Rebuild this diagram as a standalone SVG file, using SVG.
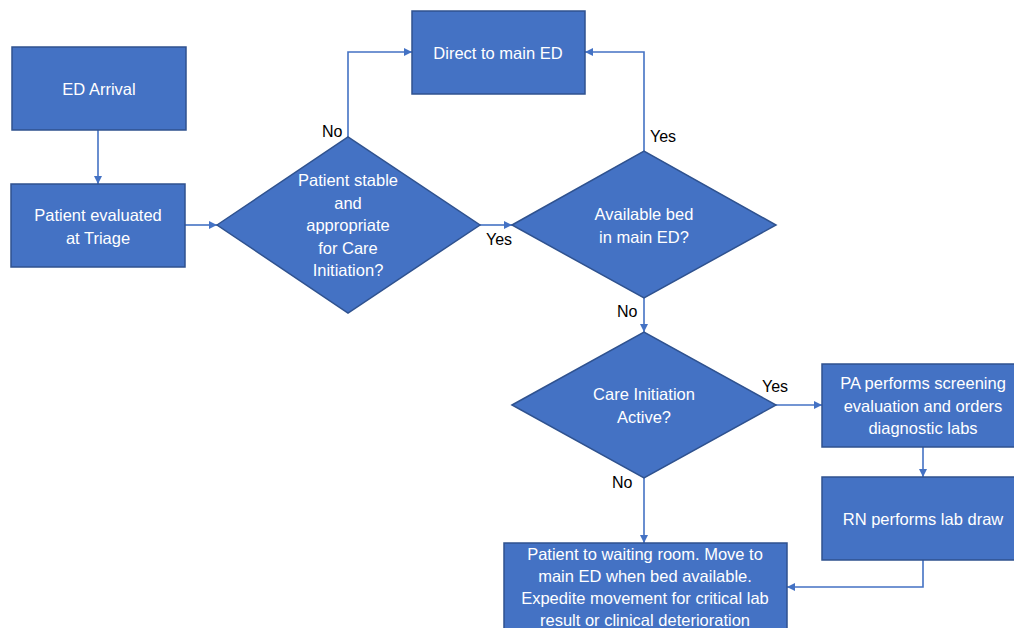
<svg xmlns="http://www.w3.org/2000/svg" width="1014" height="628" viewBox="0 0 1014 628">
<style>
.box{fill:#4472C4;stroke:#2F528F;stroke-width:1.5}
.t{fill:#fff;font-family:"Liberation Sans",Arial,sans-serif;font-size:16.5px;text-anchor:middle}
.lbl{fill:#000;font-family:"Liberation Sans",Arial,sans-serif;font-size:16px}
.c{fill:none;stroke:#4472C4;stroke-width:1.6}
</style>
<defs>
<marker id="ah" viewBox="0 0 10 10" refX="10" refY="5" markerWidth="8" markerHeight="8" markerUnits="userSpaceOnUse" orient="auto">
<path d="M0,0 L10,5 L0,10 z" fill="#4472C4"/>
</marker>
</defs>
<rect width="1014" height="628" fill="#fff"/>
<g id="connectors">
<path class="c" d="M98,130 V184" marker-end="url(#ah)"/>
<path class="c" d="M185,225 H217" marker-end="url(#ah)"/>
<path class="c" d="M348,137 V52 H412" marker-end="url(#ah)"/>
<path class="c" d="M480,225 H512" marker-end="url(#ah)"/>
<path class="c" d="M644,151 V52 H585" marker-end="url(#ah)"/>
<path class="c" d="M644,298 V332" marker-end="url(#ah)"/>
<path class="c" d="M776,405 H822" marker-end="url(#ah)"/>
<path class="c" d="M923,447 V477" marker-end="url(#ah)"/>
<path class="c" d="M923,560 V587 H787" marker-end="url(#ah)"/>
<path class="c" d="M644,478 V543" marker-end="url(#ah)"/>
<text class="lbl" x="322" y="137">No</text>
<text class="lbl" x="650" y="142">Yes</text>
<text class="lbl" x="486" y="245">Yes</text>
<text class="lbl" x="617" y="317">No</text>
<text class="lbl" x="762" y="392">Yes</text>
<text class="lbl" x="612" y="488">No</text>
</g>
<g id="ed-arrival">
<rect class="box" x="12" y="47" width="174" height="83"/>
<text class="t" x="99" y="95">ED Arrival</text>
</g>
<g id="triage">
<rect class="box" x="11" y="184" width="174" height="83"/>
<text class="t" x="98" y="221">Patient evaluated</text>
<text class="t" x="98" y="244">at Triage</text>
</g>
<g id="stable">
<polygon class="box" points="217,225 348,137 480,225 348,313"/>
<text class="t" x="348" y="186">Patient stable</text>
<text class="t" x="348" y="209">and</text>
<text class="t" x="348" y="231">appropriate</text>
<text class="t" x="348" y="254">for Care</text>
<text class="t" x="348" y="276">Initiation?</text>
</g>
<g id="direct">
<rect class="box" x="412" y="11" width="173" height="83"/>
<text class="t" x="498" y="59">Direct to main ED</text>
</g>
<g id="bed">
<polygon class="box" points="512,225 644,151 776,225 644,298"/>
<text class="t" x="644" y="220">Available bed</text>
<text class="t" x="644" y="243">in main ED?</text>
</g>
<g id="care-active">
<polygon class="box" points="512,405 644,332 776,405 644,478"/>
<text class="t" x="644" y="400">Care Initiation</text>
<text class="t" x="644" y="423">Active?</text>
</g>
<g id="pa">
<rect class="box" x="822" y="364" width="196" height="83"/>
<text class="t" x="923" y="389">PA performs screening</text>
<text class="t" x="923" y="412">evaluation and orders</text>
<text class="t" x="923" y="434">diagnostic labs</text>
</g>
<g id="rn">
<rect class="box" x="822" y="477" width="196" height="83"/>
<text class="t" x="923" y="525">RN performs lab draw</text>
</g>
<g id="waiting">
<rect class="box" x="504" y="543" width="283" height="95"/>
<text class="t" x="645" y="560">Patient to waiting room. Move to</text>
<text class="t" x="645" y="582">main ED when bed available.</text>
<text class="t" x="645" y="604">Expedite movement for critical lab</text>
<text class="t" x="645" y="626">result or clinical deterioration</text>
</g>
</svg>
